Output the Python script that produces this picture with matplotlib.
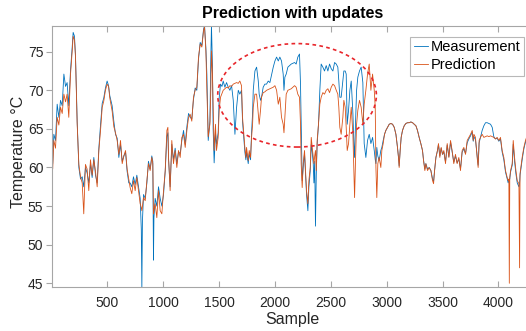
import matplotlib
matplotlib.use("Agg")
import matplotlib.pyplot as plt
from matplotlib.patches import Ellipse

plt.rcParams['font.family'] = ['Liberation Sans', 'DejaVu Sans']

# Sample index grid (shared by both series)
sample = [
    1, 10, 20, 35, 50, 65, 80, 95, 110, 125, 139, 154, 169, 184, 193, 205, 214, 229, 244, 259,
    274, 288, 303, 318, 333, 348, 363, 378, 393, 408, 423, 438, 453, 467, 482, 497, 510, 521, 542, 557,
    572, 587, 602, 617, 632, 647, 662, 676, 691,
    703, 718, 733, 748, 763, 778, 793, 803, 808, 813, 823, 838, 853, 867, 882, 897, 906, 912, 916, 927,
    942, 957, 972, 987, 1002, 1017, 1032, 1041, 1047, 1061, 1076, 1091, 1106, 1121, 1136, 1151, 1166, 1181, 1196, 1211,
    1226, 1240, 1255, 1270, 1285, 1300, 1315, 1330, 1345, 1360, 1369, 1381, 1390,
    1402, 1417, 1425, 1431, 1440, 1446, 1455, 1467, 1476, 1491, 1500,
    1512, 1525, 1536, 1551, 1566, 1581, 1596, 1611, 1626, 1641, 1656, 1671, 1685, 1700, 1709, 1721, 1730, 1739, 1745, 1760,
    1769, 1781, 1790, 1799, 1805, 1820, 1835, 1850, 1858, 1870, 1879, 1894, 1909, 1924, 1939, 1954, 1969, 1984, 1999, 2014,
    2029, 2043, 2058, 2073, 2080, 2088, 2100, 2115, 2130, 2145, 2160, 2175, 2189, 2204, 2219, 2228, 2234, 2243,
    2252, 2264, 2273, 2282, 2294, 2303, 2315, 2324, 2333, 2342, 2348, 2355, 2362, 2369, 2377, 2389, 2401, 2413, 2428, 2443,
    2458, 2473, 2488, 2503, 2518, 2533, 2548, 2562, 2571, 2580, 2592, 2607, 2616, 2628, 2637, 2646, 2658, 2670, 2682, 2697,
    2706, 2712, 2721, 2730, 2741, 2756, 2771, 2786, 2798, 2813, 2828, 2843, 2858, 2873, 2888, 2897, 2903, 2911, 2920, 2932,
    2947, 2956, 2968, 2980, 2992, 3007, 3022, 3037, 3052, 3067, 3082, 3096, 3105, 3111, 3120, 3129, 3141, 3156, 3171, 3186,
    3201, 3216, 3231, 3246, 3261, 3275, 3290, 3305, 3320, 3329, 3341, 3350, 3365, 3380, 3395, 3410, 3419, 3428, 3440, 3454,
    3463, 3475, 3487, 3499, 3511, 3526, 3541, 3556, 3571, 3585, 3600, 3615, 3630, 3645, 3660, 3675, 3690, 3705, 3720, 3735,
    3750, 3765, 3774, 3780, 3794, 3809, 3818, 3827, 3839, 3854, 3869, 3884, 3899, 3914, 3929, 3944, 3958, 3973, 3988, 4003,
    4018, 4033, 4048, 4063, 4078, 4087, 4093, 4097, 4101, 4108, 4123, 4132, 4144, 4156, 4168, 4183, 4189, 4193, 4212, 4227,
    4242, 4251, 4270, 4290, 4309,
]

prediction = [
    62.0, 59.8, 63.5, 62.5, 66.5, 65.5, 67.8, 67.0, 69.5, 68.5, 69.5, 66.5, 72.0, 75.0, 77.0, 76.5, 74.3, 65.6, 60.4, 58.8,
    58.0, 54.0, 60.4, 59.8, 57.0, 61.0, 59.0, 61.0, 59.5, 57.5, 62.2, 64.8, 67.8, 68.6, 70.0, 70.8, 70.5, 69.0, 67.3, 65.3,
    64.5, 63.5, 61.7, 63.5, 60.5, 61.5, 62.2, 59.8, 58.5,
    57.4, 56.6, 58.3, 57.0, 58.7, 57.0, 55.3, 54.8, 54.4, 55.0, 56.1, 55.7, 58.3, 60.5, 59.6, 61.3, 60.5, 54.0, 54.5, 55.3,
    53.5, 57.0, 54.4, 54.0, 57.0, 59.6, 64.8, 65.2, 61.3, 57.0, 63.5, 60.5, 62.2, 60.0, 62.2, 61.3, 63.9, 64.3, 62.6, 64.8,
    66.5, 66.9, 66.0, 69.1, 70.0, 70.4, 74.3, 76.0, 75.6, 77.7, 78.2, 75.1, 70.0,
    64.0, 65.6, 70.0, 75.1, 72.0, 67.8, 62.2, 65.6, 62.2, 63.9, 67.4,
    69.1, 69.6, 70.0, 70.2, 70.4, 70.3, 70.6, 70.5, 70.8, 70.9, 71.0, 70.9, 71.2, 70.6, 66.5, 64.3, 62.6, 61.3, 62.6, 60.9,
    62.2, 61.3, 63.9, 65.6, 67.8, 69.5, 69.5, 66.9, 65.6, 67.4, 69.1, 69.7, 69.8, 70.0, 70.1, 70.2, 70.3, 70.4, 70.6, 70.0,
    68.2, 69.1, 66.5, 65.6, 64.5, 66.5, 69.5, 70.0, 70.1, 70.2, 70.4, 70.6, 70.4, 69.5, 69.1, 65.6, 60.5, 57.4,
    60.5, 62.2, 59.6, 57.0, 55.3, 58.3, 60.0, 63.9, 62.6, 61.3, 60.5, 61.5, 62.2, 59.6, 63.5, 65.6, 68.2, 69.1, 69.7, 69.5,
    70.0, 70.2, 69.7, 70.4, 70.8, 70.6, 70.0, 69.5, 67.8, 65.2, 64.3, 66.5, 68.7, 67.8, 65.2, 62.2, 63.1, 65.6, 67.8, 64.3,
    59.6, 56.1, 61.3, 65.6, 67.4, 68.7, 67.8, 65.6, 68.2, 70.0, 72.1, 73.4, 70.0, 72.1, 70.0, 67.8, 60.0, 56.1, 60.5, 61.3,
    60.0, 62.2, 63.1, 64.3, 64.8, 65.2, 65.6, 65.7, 65.6, 65.2, 64.3, 62.6, 61.3, 60.0, 62.2, 63.9, 64.8, 65.4, 65.7, 65.8,
    65.8, 65.9, 65.8, 65.6, 65.4, 64.8, 63.9, 63.1, 62.2, 60.9, 59.6, 60.5, 59.6, 60.0, 59.6, 58.3, 57.9, 59.6, 61.3, 62.2,
    63.1, 61.3, 62.6, 61.7, 62.2, 60.5, 63.1, 61.3, 63.5, 62.2, 60.5, 61.7, 60.5, 61.3, 59.6, 62.2, 62.6, 61.7, 63.5, 63.9,
    64.3, 64.8, 63.5, 64.3, 63.9, 61.3, 60.0, 63.5, 63.9, 64.3, 63.9, 64.0, 64.1, 64.0, 64.1, 64.0, 63.9, 63.7, 63.9, 63.5,
    63.9, 62.2, 61.3, 59.6, 58.7, 58.3, 58.5, 45.0, 58.7, 59.6, 60.5, 63.5, 61.3, 59.6, 58.3, 57.9, 47.0, 59.2, 61.3, 62.6,
    63.5, 63.9, 62.0, 61.5, 61.0,
]

measurement = [
    62.5, 60.5, 64.3, 63.5, 68.2, 66.5, 68.7, 68.0, 72.1, 70.5, 71.0, 68.0, 72.5, 75.5, 77.5, 77.0, 74.5, 66.0, 60.0, 58.5,
    58.8, 57.5, 60.0, 59.3, 58.0, 60.5, 58.7, 61.3, 59.0, 58.0, 62.5, 65.5, 68.3, 69.0, 70.3, 71.2, 70.6, 69.3, 68.0, 66.0,
    64.3, 63.8, 61.3, 63.0, 60.8, 61.5, 62.0, 59.5, 58.0,
    58.0, 57.5, 58.8, 57.8, 59.0, 57.5, 56.0, 52.0, 44.3, 53.0, 56.5, 56.0, 58.0, 60.8, 59.8, 61.5, 60.8, 48.0, 53.5, 56.0,
    55.0, 57.5, 56.0, 55.0, 56.5, 59.5, 64.0, 64.5, 61.0, 57.5, 63.0, 61.0, 62.5, 60.5, 62.0, 61.8, 63.5, 64.8, 63.0, 65.3,
    67.0, 66.5, 66.3, 68.8, 70.3, 70.0, 74.0, 76.2, 75.8, 77.9, 78.4, 75.5, 72.0,
    63.5, 66.0, 74.0, 78.4, 73.0, 65.0, 60.6, 64.5, 63.0, 64.5, 69.0,
    70.8, 70.5, 71.2, 70.4, 71.0, 70.4, 70.0, 70.6, 68.7, 64.3, 67.8, 70.0, 69.5, 70.0, 66.0, 63.8, 62.0, 61.0, 62.0, 60.5,
    61.8, 61.0, 64.5, 67.0, 70.0, 72.5, 73.0, 71.2, 69.5, 68.7, 69.1, 70.4, 70.8, 70.8, 71.2, 71.0, 72.0, 73.0, 73.8, 74.3,
    73.8, 74.3, 73.8, 72.1, 70.0, 71.7, 72.1, 73.0, 73.2, 73.4, 73.5, 73.6, 73.4, 74.3, 74.7, 70.8, 65.6, 58.3,
    60.0, 61.8, 59.0, 56.5, 54.4, 57.5, 59.5, 63.0, 62.0, 60.5, 58.0, 60.8, 52.4, 59.0, 63.0, 65.6, 70.0, 73.4, 73.0, 72.5,
    73.2, 72.5, 73.4, 72.8, 72.5, 73.6, 73.4, 73.0, 71.2, 69.1, 69.1, 71.2, 72.5, 72.5, 72.1, 65.6, 67.4, 70.0, 71.2, 67.0,
    63.0, 61.3, 66.0, 70.0, 71.7, 72.5, 73.0, 71.0, 63.1, 61.3, 63.5, 64.3, 63.1, 63.9, 62.2, 61.0, 60.5, 62.6, 61.5, 60.9,
    62.2, 62.6, 63.5, 64.3, 64.8, 65.2, 65.6, 65.7, 65.6, 65.2, 64.3, 62.6, 61.3, 60.2, 62.2, 63.9, 64.8, 65.4, 65.7, 65.8,
    65.8, 65.9, 65.8, 65.6, 65.4, 64.8, 63.9, 63.1, 62.2, 61.0, 59.8, 60.5, 59.8, 60.0, 59.6, 58.5, 58.2, 59.6, 61.3, 62.2,
    63.0, 61.5, 62.5, 61.7, 62.0, 60.7, 62.9, 61.4, 63.3, 62.0, 60.7, 61.5, 60.6, 61.1, 59.8, 62.0, 62.4, 61.8, 63.2, 63.7,
    64.1, 64.6, 63.4, 64.0, 63.6, 61.5, 60.3, 63.2, 63.9, 64.8, 65.4, 65.8, 65.8, 65.7, 65.6, 65.2, 64.0, 63.7, 63.8, 63.4,
    63.7, 62.0, 61.0, 59.4, 58.5, 58.0, 58.4, 58.5, 58.5, 59.4, 60.3, 63.0, 60.8, 59.2, 58.0, 57.5, 58.0, 59.0, 61.0, 62.4,
    63.3, 63.7, 61.8, 61.3, 60.8,
]

x_ticks = [500, 1000, 1500, 2000, 2500, 3000, 3500, 4000]
y_ticks = [45, 50, 55, 60, 65, 70, 75]

W, H = 526, 331
fig = plt.figure(figsize=(W / 100, H / 100), dpi=100)
ax = fig.add_axes([51.7 / W, (H - 287.3) / H, (533 - 51.7) / W, 261.0 / H])

ax.plot(sample, measurement, color='#0072BD', lw=0.6, label='Measurement')
ax.plot(sample, prediction, color='#D95319', lw=0.6, label='Prediction')

ax.add_patch(Ellipse((2197, 69.35), 1420, 13.4, fill=False, edgecolor='#E8262B',
                     lw=1.2, linestyle=(0, (2.2, 2.0)), zorder=5))

ax.set_xlim(1, 4309)
ax.set_ylim(44.48, 78.29)
ax.set_xticks(x_ticks)
ax.set_yticks(y_ticks)

text_c = '#262626'
spine_c = '#a6a6a6'
for s in ax.spines.values():
    s.set_color(spine_c)
    s.set_linewidth(0.8)
ax.tick_params(axis='x', direction='in', top=True, length=4, width=0.8, color=spine_c,
               labelsize=10, labelcolor=text_c, pad=6)
ax.tick_params(axis='y', direction='out', right=False, length=4, width=0.8, color=spine_c,
               labelsize=10, labelcolor=text_c, pad=2)

ax.set_xlabel('Sample', fontsize=11.5, color=text_c, labelpad=2)
ax.set_ylabel('Temperature °C', fontsize=11.5, color=text_c)
ax.yaxis.set_label_coords(-0.053, 0.52)
ax.set_title('Prediction with updates', fontsize=11.5, fontweight='bold', color='black', pad=6)

leg = ax.legend(loc='upper right', bbox_to_anchor=(524 / W, 1 - 36.7 / H),
                bbox_transform=fig.transFigure, fontsize=10.5, frameon=True, fancybox=False,
                handlelength=1.0, handletextpad=0.15, borderpad=0.25, labelspacing=0.28,
                borderaxespad=0)
leg.get_frame().set_edgecolor('#a6a6a6')
leg.get_frame().set_linewidth(0.8)
for t in leg.get_texts():
    t.set_color('black')

fig.savefig('out.png', dpi=100)
